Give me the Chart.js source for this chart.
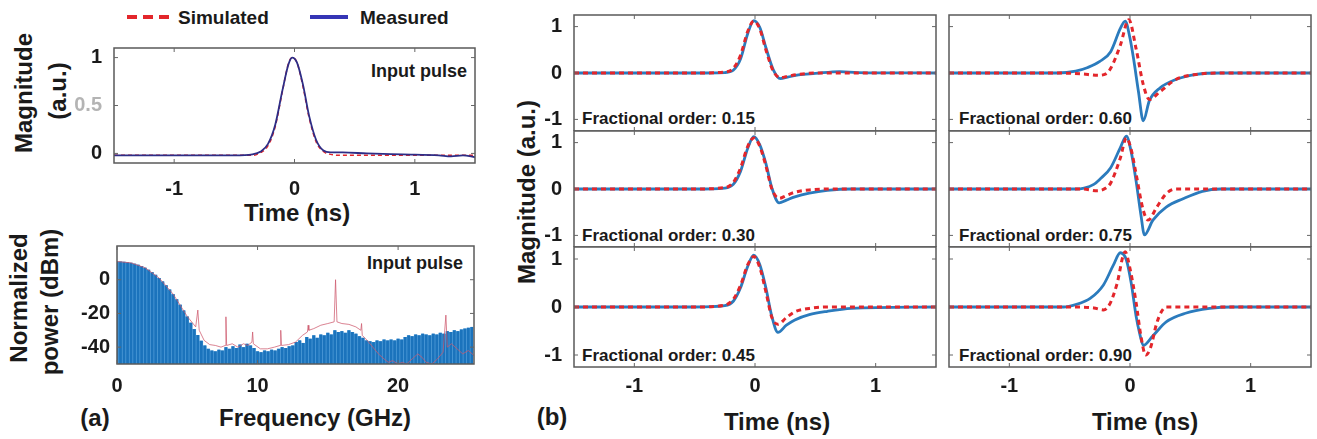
<!DOCTYPE html>
<html><head><meta charset="utf-8">
<script src="https://cdn.jsdelivr.net/npm/chart.js@4.4.1/dist/chart.umd.min.js"></script>
<style>
html,body{margin:0;padding:0;background:#fff;}
body{width:1317px;height:439px;position:relative;overflow:hidden;font-family:'Liberation Sans',Arial,sans-serif;font-weight:bold;color:#1a1a1a;}
canvas{position:absolute;}
.t{position:absolute;white-space:nowrap;line-height:1;}
.c{transform:translate(-50%,-50%);}
.l{transform:translate(0,-50%);}
.r{transform:translate(-100%,-50%);}
.rot{transform:translate(-50%,-50%) rotate(-90deg);}
.ttl{font-size:24px;}
.ann{font-size:18px;}
.fo{font-size:17px;}
</style></head><body>

<!-- legend -->
<div style="position:absolute;left:127px;top:15px;width:43px;height:4px;background:repeating-linear-gradient(90deg,#e3262b 0 10px,transparent 10px 16px);"></div>
<div class="t l" style="left:178px;top:17px;font-size:19px;">Simulated</div>
<div style="position:absolute;left:310px;top:15px;width:38px;height:4px;background:#3535b5;"></div>
<div class="t l" style="left:360px;top:17px;font-size:19px;">Measured</div>

<!-- (a) titles -->
<div class="t rot ttl" style="left:24px;top:93px;">Magnitude</div>
<div class="t rot ttl" style="left:58px;top:91px;">(a.u.)</div>
<div class="t c ttl" style="left:297px;top:213px;">Time (ns)</div>
<div class="t r ann" style="left:467px;top:71px;">Input pulse</div>

<div class="t rot ttl" style="left:19px;top:298px;">Normalized</div>
<div class="t rot ttl" style="left:50px;top:302px;">power (dBm)</div>
<div class="t c ttl" style="left:315px;top:418px;">Frequency (GHz)</div>
<div class="t r ann" style="left:463px;top:263px;">Input pulse</div>
<div class="t c ttl" style="left:95px;top:418px;">(a)</div>

<!-- (b) titles -->
<div class="t rot ttl" style="left:527px;top:192px;">Magnitude (a.u.)</div>
<div class="t c ttl" style="left:777px;top:422px;">Time (ns)</div>
<div class="t c ttl" style="left:1145px;top:422px;">Time (ns)</div>
<div class="t c ttl" style="left:552px;top:417px;">(b)</div>
<div class="t l fo" style="left:582px;top:118px;">Fractional order: 0.15</div>
<div class="t l fo" style="left:582px;top:235px;">Fractional order: 0.30</div>
<div class="t l fo" style="left:582px;top:355px;">Fractional order: 0.45</div>
<div class="t l fo" style="left:959px;top:118px;">Fractional order: 0.60</div>
<div class="t l fo" style="left:959px;top:235px;">Fractional order: 0.75</div>
<div class="t l fo" style="left:959px;top:355px;">Fractional order: 0.90</div>

<script>
// ---------- DATA ----------
const timeTicks = [-1, 0, 1];
const inputYTicks = [0, 0.5, 1];
const bYTicks = [-1, 0, 1];
const freqTicks = [0, 10, 20];
const powerTicks = [-40, -20, 0];

// (a) input pulse, time domain
const inputTimeMeas = [-1.5,-1.0,-0.5,-0.35,-0.28,-0.22,-0.16,-0.1,-0.05,-0.02,0.02,0.07,0.12,0.18,0.24,0.3,0.4,0.6,0.9,1.2,1.3,1.4,1.5];
const inputMeas     = [-0.02,-0.02,-0.02,-0.01,0.02,0.1,0.3,0.66,0.93,1.0,0.95,0.72,0.4,0.14,0.03,0.01,0.01,0.0,-0.01,-0.02,-0.03,-0.02,-0.04];
const inputTimeSim  = [-1.5,-1.0,-0.5,-0.35,-0.28,-0.22,-0.16,-0.1,-0.05,-0.02,0.02,0.07,0.12,0.18,0.24,0.3,0.4,0.6,0.9,1.2,1.5];
const inputSim      = [-0.02,-0.02,-0.02,-0.02,0.01,0.08,0.28,0.65,0.94,1.0,0.95,0.7,0.38,0.12,0.02,-0.01,-0.02,-0.02,-0.02,-0.02,-0.02];

// (a) spectrum, measured power on a 0.25 GHz grid
const specStep = 0.25;
const specMeasPower = [
  10.8,10.8,10.6,10.3,10.0,9.5,8.9,8.1,7.1,5.9,4.5,2.9,1.0,-1.0,-3.3,-5.8,-8.6,-11.6,-14.8,-18.2,-21.8,-25.5,-29.3,-32.8,-36.2,-39.0,-41.0,-42.0,
  -42.5,-41.5,-42,-40,-41,-39.5,-40.5,-38.5,-40,-38,-39,-40.5,-42.5,-43,-42,-42.5,-41.5,-42,-41,-40,-40.5,-39.5,-39,-37,-36,-37.5,
  -34,-35,-33,-34.5,-32.5,-33,-31.5,-32.5,-30,-31,-30.5,-31.5,-30,-31,-32,-33.5,-34.5,-36,-36.5,-37,-36,-36.5,-35.5,-36,-35.5,-36,
  -35,-35.5,-34,-33,-33.5,-32.5,-33,-32,-32.5,-33,-32,-32.5,-31.5,-32,-30.5,-31,-30,-30.5,-29.5,-29,-28.5,-28];
const specFreq = specMeasPower.map((_, i) => i * specStep);
// simulated spectrum (line, with spurs)
const specSimFreq  = [0,1,2,3,4,5,5.6,5.75,5.85,6.2,6.6,7,7.4,7.7,7.75,7.8,8.2,8.6,9,9.3,9.6,9.65,9.7,10.2,10.7,11.2,11.6,11.65,11.7,12.2,12.7,13.2,13.55,13.6,13.65,14,14.5,15,15.45,15.55,15.65,16,16.5,17,17.35,17.4,17.45,17.8,18.2,18.6,19,19.3,19.6,20,20.3,20.6,21,21.4,21.7,22.0,22.4,22.8,23.2,23.4,23.5,23.8,24.2,24.6,25,25.4];
const specSimPower = [10.8,10.0,7.1,1.0,-8.6,-21.8,-28,-18,-30,-36,-38.5,-39,-40,-39,-22,-39,-38,-40,-38,-39,-37,-31,-38,-41,-41,-40,-39,-30,-39,-38.5,-37,-33,-31,-27,-30,-29,-27,-26,-25,0,-25,-26,-26.5,-28,-30,-26,-33,-36,-40,-44,-47,-49,-48,-50,-49,-50,-47,-44,-46,-49,-50,-47,-43,-21,-40,-38,-41,-44,-42,-45];

// (b) fractional-order differentiator outputs
const orderLabels = ['0.15','0.30','0.45','0.60','0.75','0.90'];
const b015TimeMeas = [-1.5,-0.5,-0.25,-0.18,-0.12,-0.06,-0.01,0.04,0.09,0.15,0.21,0.27,0.36,0.5,0.7,0.85,1.5];
const b015Meas     = [0,0,0.01,0.06,0.3,0.85,1.13,0.98,0.55,0.08,-0.12,-0.09,-0.04,-0.01,0.03,0.01,0];
const b015TimeSim  = [-1.5,-0.5,-0.25,-0.18,-0.12,-0.06,-0.01,0.04,0.09,0.15,0.21,0.27,0.36,0.5,1.5];
const b015Sim      = [0,0,0.02,0.1,0.38,0.9,1.12,0.95,0.5,0.05,-0.1,-0.07,-0.03,0,0];

const b030TimeMeas = [-1.5,-0.5,-0.25,-0.18,-0.12,-0.06,-0.01,0.04,0.09,0.14,0.2,0.26,0.33,0.45,0.6,0.8,1.5];
const b030Meas     = [0,0,0.02,0.1,0.38,0.88,1.13,0.95,0.55,0.02,-0.3,-0.24,-0.17,-0.09,-0.03,0,0];
const b030TimeSim  = [-1.5,-0.5,-0.25,-0.18,-0.12,-0.06,-0.01,0.04,0.09,0.14,0.2,0.26,0.33,0.45,0.6,0.8,1.5];
const b030Sim      = [0,0,0.03,0.14,0.45,0.92,1.1,0.92,0.5,0.0,-0.2,-0.14,-0.07,-0.02,0,0,0];

const b045TimeMeas = [-1.5,-0.5,-0.25,-0.18,-0.12,-0.06,-0.01,0.04,0.09,0.14,0.19,0.26,0.33,0.45,0.6,0.8,1.5];
const b045Meas     = [0,0,0.03,0.12,0.4,0.85,1.08,0.88,0.4,-0.2,-0.53,-0.38,-0.27,-0.16,-0.09,-0.03,0];
const b045TimeSim  = [-1.5,-0.5,-0.25,-0.18,-0.12,-0.06,-0.01,0.04,0.09,0.14,0.19,0.26,0.33,0.45,0.6,0.8,1.5];
const b045Sim      = [0,0,0.04,0.16,0.45,0.88,1.05,0.82,0.32,-0.22,-0.36,-0.22,-0.1,-0.03,0,0,0];

const b060TimeMeas = [-1.5,-0.6,-0.45,-0.35,-0.25,-0.16,-0.08,-0.04,0.0,0.03,0.07,0.11,0.16,0.25,0.38,0.55,0.75,1.5];
const b060Meas     = [0,0,0.04,0.12,0.25,0.46,0.96,1.12,0.75,0.3,-0.4,-1.03,-0.6,-0.32,-0.14,-0.03,0,0];
const b060TimeSim  = [-1.5,-0.6,-0.4,-0.27,-0.2,-0.16,-0.08,-0.01,0.05,0.11,0.16,0.25,0.38,0.55,0.75,1.5];
const b060Sim      = [0,0,-0.02,-0.05,-0.02,0.1,0.6,1.15,0.53,-0.25,-0.57,-0.4,-0.14,-0.03,0,0];

const b075TimeMeas = [-1.5,-0.45,-0.38,-0.3,-0.25,-0.16,-0.08,-0.03,0.01,0.05,0.09,0.12,0.19,0.3,0.44,0.6,0.75,1.5];
const b075Meas     = [0,0,0.02,0.1,0.21,0.46,0.89,1.14,0.8,0.18,-0.55,-0.99,-0.67,-0.39,-0.21,-0.05,0,0];
const b075TimeSim  = [-1.5,-0.4,-0.27,-0.2,-0.16,-0.08,-0.03,0.01,0.05,0.11,0.15,0.22,0.3,0.38,1.5];
const b075Sim      = [0,0,-0.04,0.02,0.13,0.67,1.1,0.85,0.33,-0.46,-0.67,-0.4,-0.1,0,0];

const b090TimeMeas = [-1.5,-0.55,-0.45,-0.33,-0.22,-0.14,-0.08,-0.03,0.01,0.05,0.08,0.11,0.19,0.3,0.46,0.66,0.85,1.5];
const b090Meas     = [0,0,0.05,0.18,0.46,0.86,1.13,0.98,0.5,-0.18,-0.55,-0.8,-0.6,-0.31,-0.13,-0.03,0,0];
const b090TimeSim  = [-1.5,-0.5,-0.3,-0.22,-0.17,-0.11,-0.04,0.0,0.05,0.09,0.13,0.17,0.22,0.26,0.3,1.5];
const b090Sim      = [0,0,-0.02,-0.06,0.05,0.46,1.15,0.8,0.1,-0.6,-1.0,-0.85,-0.35,-0.1,0,0];

// ---------- DRAWING ----------
const FONT = "'Liberation Sans', Arial, sans-serif";
const RED = '#e3262b';
const BLUE = '#2b7bbd';
const NAVY = '#2d2d86';
const pts = (xs, ys) => xs.map((x, i) => ({x: x, y: ys[i]}));

const boxPlugin = {
  id: 'box',
  afterDatasetsDraw(chart) {
    const {ctx, chartArea: a, scales} = chart;
    ctx.save();
    ctx.strokeStyle = '#5a5a5a'; ctx.lineWidth = 1.5;
    ctx.strokeRect(a.left, a.top, a.right - a.left, a.bottom - a.top);
    ctx.lineWidth = 1; ctx.strokeStyle = '#666';
    const L = 4;
    scales.x.ticks.forEach(t => {
      const p = scales.x.getPixelForValue(t.value);
      ctx.beginPath(); ctx.moveTo(p, a.bottom); ctx.lineTo(p, a.bottom - L);
      ctx.moveTo(p, a.top); ctx.lineTo(p, a.top + L); ctx.stroke();
    });
    scales.y.ticks.forEach(t => {
      const p = scales.y.getPixelForValue(t.value);
      ctx.beginPath(); ctx.moveTo(a.left, p); ctx.lineTo(a.left + L, p);
      ctx.moveTo(a.right, p); ctx.lineTo(a.right - L, p); ctx.stroke();
    });
    ctx.restore();
  }
};

function panel(o) {
  const [L, T, R, B] = o.rect;
  const pad = 6;
  const c = document.createElement('canvas');
  const w = R - L + o.yW + pad, h = B - T + pad + o.xH;
  c.width = w; c.height = h;
  c.style.left = (L - o.yW) + 'px'; c.style.top = (T - pad) + 'px';
  c.style.width = w + 'px'; c.style.height = h + 'px';
  document.body.appendChild(c);
  const tickFont = {family: FONT, size: 20, weight: 'bold'};
  new Chart(c, {
    type: o.type || 'line',
    data: {datasets: o.datasets},
    options: {
      responsive: false, animation: false, devicePixelRatio: 1,
      layout: {padding: {top: pad, right: pad, left: 0, bottom: 0}, autoPadding: false},
      plugins: {legend: {display: false}, tooltip: {enabled: false}},
      elements: {point: {radius: 0}},
      scales: {
        x: {type: 'linear', min: o.xMin, max: o.xMax, offset: false,
            grid: {display: false, drawTicks: false, offset: false}, border: {display: false},
            afterBuildTicks: s => { s.ticks = o.xTicks.map(v => ({value: v})); },
            afterFit: s => { s.height = o.xH; s.paddingLeft = 0; s.paddingRight = 0; s.paddingTop = 0; s.paddingBottom = 0; },
            ticks: {display: o.showX, padding: o.xPad || 6, font: tickFont, color: '#1a1a1a',
                    maxRotation: 0, autoSkip: false, callback: v => String(v)}},
        y: {type: 'linear', min: o.yMin, max: o.yMax,
            grid: {display: false, drawTicks: false}, border: {display: false},
            afterBuildTicks: s => { s.ticks = o.yTicks.map(v => ({value: v})); },
            afterFit: s => { s.width = o.yW; s.paddingTop = 0; s.paddingBottom = 0; s.paddingLeft = 0; s.paddingRight = 0; },
            ticks: {display: o.showY, padding: o.yPad || 12, font: tickFont,
                    color: o.yColor || '#1a1a1a', autoSkip: false, callback: v => String(v)}}
      }
    },
    plugins: [boxPlugin]
  });
}

// (a) top: input pulse
panel({rect: [114, 48, 475, 163], yW: 60, xH: 40, showX: true, showY: true, xPad: 14, yPad: 12,
  xMin: -1.5, xMax: 1.5, yMin: -0.1, yMax: 1.1, xTicks: timeTicks, yTicks: inputYTicks,
  yColor: ctx => ctx.tick && ctx.tick.value === 0.5 ? '#b4b4b4' : '#1a1a1a',
  datasets: [
    {data: pts(inputTimeMeas, inputMeas), borderColor: NAVY, borderWidth: 1.8, tension: 0.3, cubicInterpolationMode: 'monotone'},
    {data: pts(inputTimeSim, inputSim), borderColor: RED, borderWidth: 1.5, borderDash: [4, 3], tension: 0.3, cubicInterpolationMode: 'monotone'}
  ]});

// (a) bottom: spectrum
panel({type: 'bar', rect: [117, 246, 474, 364], yW: 60, xH: 40, showX: true, showY: true, xPad: 10, yPad: 7,
  xMin: 0, xMax: 25.4, yMin: -50, yMax: 20, xTicks: freqTicks, yTicks: powerTicks,
  datasets: [
    {type: 'line', order: 0, data: pts(specSimFreq, specSimPower), borderColor: 'rgba(205,90,110,0.75)', borderWidth: 1, pointRadius: 0, tension: 0},
    {type: 'bar', order: 1, data: specFreq.map((f, i) => ({x: f, y: [-50, specMeasPower[i]]})),
      backgroundColor: '#1b73bc', barPercentage: 1, categoryPercentage: 0.78, borderWidth: 0},
    {type: 'line', order: 2, data: pts(specFreq, specMeasPower), stepped: 'middle', fill: 'start',
      backgroundColor: '#519dd9', borderWidth: 0, pointRadius: 0}
  ]});

// (b) six panels
const bRows = [[15, 131], [131, 247], [247, 367]];
const bCols = [[574, 936], [949, 1311]];
const bData = [
  [b015TimeMeas, b015Meas, b015TimeSim, b015Sim],
  [b030TimeMeas, b030Meas, b030TimeSim, b030Sim],
  [b045TimeMeas, b045Meas, b045TimeSim, b045Sim],
  [b060TimeMeas, b060Meas, b060TimeSim, b060Sim],
  [b075TimeMeas, b075Meas, b075TimeSim, b075Sim],
  [b090TimeMeas, b090Meas, b090TimeSim, b090Sim]
];
bData.forEach((d, k) => {
  const col = Math.floor(k / 3), row = k % 3;
  const [L, R] = bCols[col], [T, B] = bRows[row];
  const last = row === 2;
  panel({rect: [L, T, R, B], yW: col === 0 ? 45 : 6, xH: last ? 36 : 0,
    showX: last, showY: col === 0, xPad: 7, yPad: 12,
    xMin: -1.5, xMax: 1.5, yMin: -1.25, yMax: 1.25, xTicks: timeTicks, yTicks: bYTicks,
    datasets: [
      {data: pts(d[2], d[3]), borderColor: RED, borderWidth: 3, borderDash: [5, 4], tension: 0.3, cubicInterpolationMode: 'monotone'},
      {data: pts(d[0], d[1]), borderColor: BLUE, borderWidth: 2.8, tension: 0.3, cubicInterpolationMode: 'monotone'}
    ]});
});
</script>
</body></html>
